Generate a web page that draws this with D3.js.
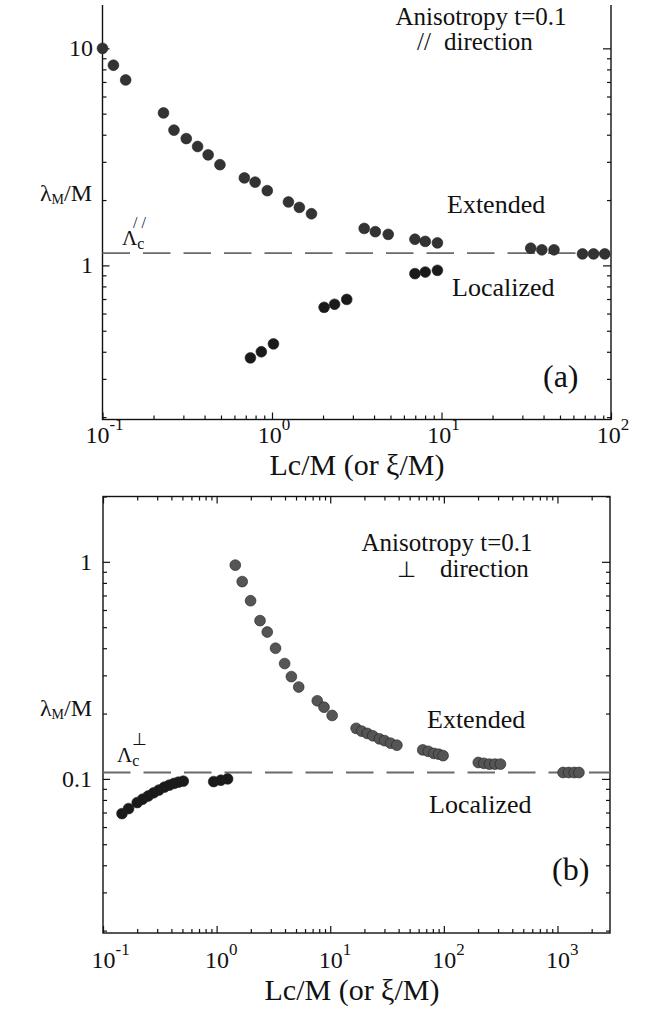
<!DOCTYPE html>
<html><head><meta charset="utf-8">
<script src="https://cdn.jsdelivr.net/npm/d3@7"></script>
<style>
body{margin:0;background:#fff}
svg{display:block}
svg text{font-family:"Liberation Serif","Times New Roman",serif;}
</style>
</head><body>
<svg id="fig" width="646" height="1015"></svg>
<script>
// ---- data: panel (a), parallel direction ----
const aUpperX = [0.1, 0.116, 0.137, 0.229, 0.264, 0.312, 0.364, 0.420, 0.493, 0.687, 0.795, 0.938, 1.25, 1.45, 1.71, 3.50, 4.07, 4.85, 6.97, 8.02, 9.46, 33.6, 39.1, 46.1, 67.9, 78.9, 91.9];
const aUpperY = [10.0, 8.36, 7.15, 5.04, 4.20, 3.84, 3.53, 3.23, 2.91, 2.53, 2.42, 2.21, 1.96, 1.85, 1.73, 1.48, 1.43, 1.39, 1.32, 1.29, 1.27, 1.20, 1.18, 1.18, 1.13, 1.13, 1.13];
const aLowerX = [0.746, 0.865, 1.02, 2.03, 2.34, 2.76, 6.97, 8.02, 9.46];
const aLowerY = [0.375, 0.400, 0.435, 0.641, 0.662, 0.697, 0.916, 0.932, 0.949];
const aCritical = 1.14;

// ---- data: panel (b), perpendicular direction ----
const bUpperX = [1.46, 1.68, 1.99, 2.41, 2.79, 3.30, 3.97, 4.55, 5.28, 7.69, 8.81, 10.4,
  16.9, 18.9, 21.2, 23.7, 27.1, 30.1, 34.0, 38.6,
  65.2, 73.0, 81.7, 90.0, 98.5,
  201, 225, 252, 282, 315,
  1120, 1254, 1403, 1545];
const bUpperY = [0.966, 0.811, 0.662, 0.536, 0.475, 0.400, 0.340, 0.296, 0.265, 0.229, 0.214, 0.196,
  0.171, 0.166, 0.162, 0.158, 0.153, 0.150, 0.146, 0.143,
  0.136, 0.134, 0.131, 0.130, 0.128,
  0.119, 0.118, 0.117, 0.117, 0.117,
  0.107, 0.107, 0.107, 0.107];
const bLowerX = [0.147, 0.168, 0.200, 0.223, 0.250, 0.279, 0.310, 0.347, 0.383, 0.422, 0.461, 0.509, 0.942, 1.09, 1.25];
const bLowerY = [0.0692, 0.0730, 0.0778, 0.0806, 0.0834, 0.0863, 0.0888, 0.0917, 0.0936, 0.0953, 0.0966, 0.0976, 0.0972, 0.0986, 0.100];
const bCritical = 0.107;

const xTicksA = [0.1, 1, 10, 100];
const xTicksB = [0.1, 1, 10, 100, 1000];
const yTicksA = [{v: 10, t: "10"}, {v: 1, t: "1"}];
const yTicksB = [{v: 1, t: "1"}, {v: 0.1, t: "0.1"}];

const svg = d3.select("#fig");

// minor ticks 2..9 of every decade inside a domain
function minors(domain) {
  const out = [];
  const lo = Math.floor(Math.log10(domain[0])), hi = Math.ceil(Math.log10(domain[1]));
  for (let e = lo; e <= hi; e++)
    for (let m = 2; m <= 9; m++) {
      const v = m * Math.pow(10, e);
      if (v >= domain[0] && v <= domain[1]) out.push(v);
    }
  return out;
}

function drawPanel(p) {
  const g = svg.append("g");
  if (p.clipTop !== undefined) {
    const id = "clip" + p.name;
    svg.append("clipPath").attr("id", id).append("rect")
      .attr("x", 0).attr("y", p.clipTop).attr("width", 646).attr("height", 1015);
    g.attr("clip-path", `url(#${id})`);
  }
  const x = d3.scaleLog().domain(p.xDomain).range(p.xRange);
  const y = d3.scaleLog().domain(p.yDomain).range(p.yRange);
  const [x0, x1] = p.xRange, [y0, y1] = p.yRange;

  const styleAxis = sel => {
    sel.select(".domain").remove();
    sel.selectAll("line").attr("stroke", "#111").attr("stroke-width", 1.2);
  };
  // bottom & top (ticks pointing inward)
  g.append("g").attr("transform", `translate(0,${y0})`)
    .call(d3.axisBottom(x).tickValues(p.xMajor).tickSize(-7).tickFormat("")).call(styleAxis);
  g.append("g").attr("transform", `translate(0,${y0})`)
    .call(d3.axisBottom(x).tickValues(minors(p.xDomain)).tickSize(-4).tickFormat("")).call(styleAxis);
  g.append("g").attr("transform", `translate(0,${y1})`)
    .call(d3.axisTop(x).tickValues(p.xMajor).tickSize(-7).tickFormat("")).call(styleAxis);
  g.append("g").attr("transform", `translate(0,${y1})`)
    .call(d3.axisTop(x).tickValues(minors(p.xDomain)).tickSize(-4).tickFormat("")).call(styleAxis);
  // left & right
  const yMajor = p.yLabels.map(d => d.v);
  g.append("g").attr("transform", `translate(${x0},0)`)
    .call(d3.axisLeft(y).tickValues(yMajor).tickSize(-7).tickFormat("")).call(styleAxis);
  g.append("g").attr("transform", `translate(${x0},0)`)
    .call(d3.axisLeft(y).tickValues(minors(p.yDomain)).tickSize(-4).tickFormat("")).call(styleAxis);
  g.append("g").attr("transform", `translate(${x1},0)`)
    .call(d3.axisRight(y).tickValues(yMajor).tickSize(-8).tickFormat("")).call(styleAxis);
  g.append("g").attr("transform", `translate(${x1},0)`)
    .call(d3.axisRight(y).tickValues(minors(p.yDomain)).tickSize(-4).tickFormat("")).call(styleAxis);

  // frame
  g.append("rect").attr("x", x0).attr("y", y1).attr("width", x1 - x0).attr("height", y0 - y1)
    .attr("fill", "none").attr("stroke", "#111").attr("stroke-width", 1.4);

  // critical value line
  g.append("line").attr("x1", x0).attr("x2", x1)
    .attr("y1", y(p.critical)).attr("y2", y(p.critical))
    .attr("stroke", "#6a6a6a").attr("stroke-width", 1.8).attr("stroke-dasharray", "27.5,13");

  // data points
  const dots = (xs, ys, fill) => g.append("g").selectAll("circle")
    .data(xs.map((v, i) => [v, ys[i]])).join("circle")
    .attr("cx", d => x(d[0])).attr("cy", d => y(d[1])).attr("r", 5.4)
    .attr("fill", fill).attr("stroke", "#222").attr("stroke-width", 0.6);
  dots(p.upperX, p.upperY, p.upperFill);
  dots(p.lowerX, p.lowerY, p.lowerFill);

  const txt = () => svg.append("text").attr("fill", "#111");

  // x tick labels 10^n
  p.xMajor.forEach(v => {
    const e = Math.round(Math.log10(v));
    const t = txt().attr("y", p.xLabelY).attr("font-size", 24)
      .attr("text-anchor", p.xLabelAnchor === "base" ? "start" : "middle");
    t.append("tspan").text("10");
    t.append("tspan").attr("dy", -13).attr("font-size", 17).text(e < 0 ? "-" + (-e) : String(e));
    if (p.xLabelAnchor === "base") t.attr("x", x(v) - 11.5);
    else t.attr("x", x(v) + 2);
  });
  // y tick labels
  p.yLabels.forEach(d => {
    txt().attr("x", p.yLabelX).attr("y", y(d.v) + 8)
      .attr("text-anchor", "end").attr("font-size", 24).text(d.t);
  });
  // axis titles
  const yl = txt().attr("x", p.yTitle[0]).attr("y", p.yTitle[1])
    .attr("text-anchor", "end").attr("font-size", 24);
  yl.append("tspan").text("λ");
  yl.append("tspan").attr("font-size", 14).attr("dy", 3).text("M");
  yl.append("tspan").attr("dy", -3).text("/M");
  txt().attr("x", p.xTitle[0]).attr("y", p.xTitle[1])
    .attr("text-anchor", "middle").attr("font-size", 30).text("Lc/M (or ξ/M)");

  // annotations
  txt().attr("x", p.aniso[0]).attr("y", p.aniso[1])
    .attr("text-anchor", "middle").attr("font-size", 25).text("Anisotropy t=0.1");
  txt().attr("x", p.dirSym[0]).attr("y", p.dirSym[1])
    .attr("font-size", p.dirSym[2]).text(p.dirSym[3]);
  txt().attr("x", p.dir[0]).attr("y", p.dir[1])
    .attr("font-size", 25).text("direction");
  txt().attr("x", p.ext[0]).attr("y", p.ext[1]).attr("font-size", 26).text("Extended");
  txt().attr("x", p.loc[0]).attr("y", p.loc[1]).attr("font-size", 26).text("Localized");
  txt().attr("x", p.tag[0]).attr("y", p.tag[1]).attr("font-size", 32).text(p.tag[2]);
  // critical value label: Lambda with subscript c and direction superscript
  const lam = txt().attr("x", p.lam[0]).attr("y", p.lam[1]).attr("font-size", 21);
  lam.append("tspan").text("Λ");
  lam.append("tspan").attr("font-size", 16).attr("dy", 4).text("c");
  txt().attr("x", p.lam[0] + p.lamSup[0]).attr("y", p.lam[1] + p.lamSup[1])
    .attr("font-size", p.lamSup[2]).text(p.lamSup[3]);
}

drawPanel({
  name: "a", clipTop: 5,
  xDomain: [0.1, 100], xRange: [102.5, 611],
  yDomain: [0.195, 20], yRange: [419.5, -17],
  xMajor: xTicksA, yLabels: yTicksA,
  upperX: aUpperX, upperY: aUpperY, lowerX: aLowerX, lowerY: aLowerY,
  upperFill: "#333", lowerFill: "#1a1a1a", critical: aCritical,
  xLabelY: 443, xLabelAnchor: "middle", yLabelX: 93,
  yTitle: [92, 201], xTitle: [357, 475],
  aniso: [481, 25], dirSym: [417, 50, 25, "//"], dir: [444, 50],
  ext: [447, 213], loc: [452, 296], tag: [543, 387, "(a)"],
  lam: [122, 245], lamSup: [11, -17, 16, "/ /"]
});

drawPanel({
  name: "b",
  xDomain: [0.1, 2900], xRange: [103, 610],
  yDomain: [0.0195, 2.0], yRange: [933, 496.5],
  xMajor: xTicksB, yLabels: yTicksB,
  upperX: bUpperX, upperY: bUpperY, lowerX: bLowerX, lowerY: bLowerY,
  upperFill: "#555", lowerFill: "#1a1a1a", critical: bCritical,
  xLabelY: 968, xLabelAnchor: "base", yLabelX: 92,
  yTitle: [92, 716], xTitle: [352, 1000],
  aniso: [447, 551], dirSym: [397, 577, 22, "⊥"], dir: [440, 577],
  ext: [427, 728], loc: [429, 813], tag: [552, 880, "(b)"],
  lam: [117, 762], lamSup: [15, -17, 17, "⊥"]
});
</script>
</body></html>
